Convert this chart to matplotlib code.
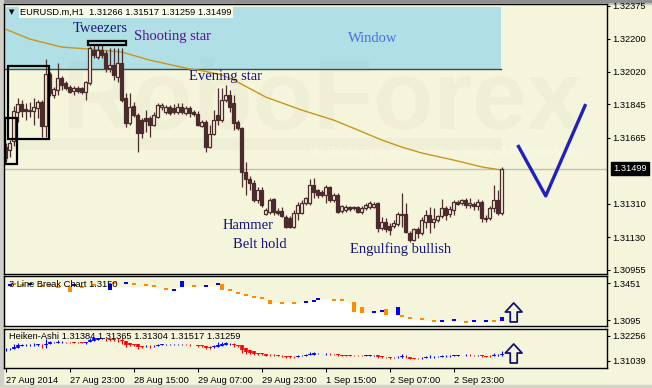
import numpy as np
import matplotlib
matplotlib.use("Agg")
import matplotlib.pyplot as plt
from matplotlib.patches import Rectangle

plt.rcParams['font.family'] = ['Liberation Sans', 'DejaVu Sans']

# EURUSD.m H1 candles, 27 Aug 07:00 .. 3 Sep 11:00
opens = [
    1.31616, 1.31600, 1.31648, 1.31804, 1.31847, 1.31821, 1.31815, 1.31810, 1.31826, 1.31858,
    1.31729, 1.32009, 1.31896, 1.31923, 1.31987, 1.31960, 1.31939, 1.31917, 1.31934, 1.31934,
    1.31912, 1.31960, 1.32138, 1.32100, 1.32138, 1.32122, 1.32041, 1.32057, 1.31993, 1.32068,
    1.31880, 1.31745, 1.31837, 1.31788, 1.31761, 1.31772, 1.31772, 1.31735, 1.31778, 1.31831,
    1.31804, 1.31831, 1.31826, 1.31804, 1.31831, 1.31799, 1.31826, 1.31804, 1.31794, 1.31729,
    1.31751, 1.31616, 1.31686, 1.31788, 1.31761, 1.31869, 1.31896, 1.31853, 1.31751, 1.31718,
    1.31482, 1.31444, 1.31422, 1.31331, 1.31385, 1.31256, 1.31266, 1.31336, 1.31272, 1.31272,
    1.31240, 1.31234, 1.31186, 1.31261, 1.31261, 1.31315, 1.31315, 1.31412, 1.31385, 1.31374,
    1.31358, 1.31401, 1.31331, 1.31358, 1.31272, 1.31277, 1.31293, 1.31288, 1.31293, 1.31266,
    1.31288, 1.31293, 1.31293, 1.31315, 1.31180, 1.31213, 1.31191, 1.31191, 1.31202, 1.31250,
    1.31256, 1.31153, 1.31116, 1.31175, 1.31153, 1.31213, 1.31250, 1.31213, 1.31223, 1.31245,
    1.31288, 1.31256, 1.31277, 1.31320, 1.31315, 1.31331, 1.31304, 1.31310, 1.31299, 1.31320,
    1.31234, 1.31234, 1.31288, 1.31331, 1.31261]
highs = [
    1.31638, 1.31654, 1.31837, 1.31880, 1.31869, 1.31853, 1.31858, 1.31880, 1.31869, 1.31869,
    1.32090, 1.32020, 1.31939, 1.32068, 1.31998, 1.31971, 1.31950, 1.31944, 1.31944, 1.31939,
    1.31971, 1.32160, 1.32165, 1.32165, 1.32165, 1.32138, 1.32149, 1.32149, 1.32149, 1.32149,
    1.31907, 1.31907, 1.31858, 1.31799, 1.31772, 1.31815, 1.31783, 1.31804, 1.31853, 1.31853,
    1.31842, 1.31842, 1.31847, 1.31853, 1.31853, 1.31837, 1.31837, 1.31815, 1.31810, 1.31761,
    1.31761, 1.31735, 1.31815, 1.31934, 1.31934, 1.31950, 1.31923, 1.31896, 1.31761, 1.31724,
    1.31535, 1.31460, 1.31439, 1.31401, 1.31401, 1.31288, 1.31342, 1.31342, 1.31288, 1.31293,
    1.31250, 1.31245, 1.31277, 1.31320, 1.31331, 1.31347, 1.31444, 1.31449, 1.31390, 1.31385,
    1.31412, 1.31406, 1.31369, 1.31369, 1.31304, 1.31304, 1.31299, 1.31299, 1.31299, 1.31299,
    1.31315, 1.31326, 1.31320, 1.31320, 1.31240, 1.31234, 1.31207, 1.31223, 1.31266, 1.31369,
    1.31315, 1.31164, 1.31180, 1.31186, 1.31240, 1.31277, 1.31293, 1.31288, 1.31250, 1.31336,
    1.31299, 1.31299, 1.31331, 1.31331, 1.31336, 1.31342, 1.31342, 1.31320, 1.31336, 1.31331,
    1.31250, 1.31299, 1.31412, 1.31385, 1.31509]
lows = [
    1.31535, 1.31562, 1.31622, 1.31751, 1.31778, 1.31761, 1.31778, 1.31735, 1.31772, 1.31670,
    1.31670, 1.31891, 1.31880, 1.31896, 1.31923, 1.31923, 1.31907, 1.31896, 1.31907, 1.31901,
    1.31869, 1.31950, 1.32095, 1.32090, 1.32095, 1.32020, 1.32020, 1.31977, 1.31966, 1.31858,
    1.31724, 1.31735, 1.31778, 1.31589, 1.31665, 1.31697, 1.31670, 1.31729, 1.31772, 1.31815,
    1.31794, 1.31788, 1.31794, 1.31794, 1.31794, 1.31788, 1.31778, 1.31783, 1.31729, 1.31724,
    1.31589, 1.31611, 1.31681, 1.31735, 1.31751, 1.31858, 1.31804, 1.31708, 1.31708, 1.31401,
    1.31358, 1.31385, 1.31320, 1.31315, 1.31293, 1.31250, 1.31256, 1.31250, 1.31250, 1.31240,
    1.31180, 1.31180, 1.31180, 1.31223, 1.31256, 1.31304, 1.31304, 1.31342, 1.31342, 1.31347,
    1.31315, 1.31320, 1.31320, 1.31261, 1.31261, 1.31266, 1.31272, 1.31277, 1.31261, 1.31256,
    1.31277, 1.31283, 1.31288, 1.31159, 1.31170, 1.31159, 1.31143, 1.31180, 1.31191, 1.31186,
    1.31153, 1.31105, 1.31111, 1.31127, 1.31143, 1.31180, 1.31153, 1.31180, 1.31213, 1.31234,
    1.31223, 1.31240, 1.31250, 1.31304, 1.31304, 1.31288, 1.31288, 1.31277, 1.31277, 1.31213,
    1.31213, 1.31223, 1.31266, 1.31250, 1.31250]
closes = [
    1.31557, 1.31638, 1.31810, 1.31847, 1.31810, 1.31810, 1.31810, 1.31831, 1.31858, 1.31729,
    1.32009, 1.31907, 1.31928, 1.31987, 1.31950, 1.31934, 1.31912, 1.31934, 1.31917, 1.31912,
    1.31966, 1.32149, 1.32111, 1.32138, 1.32111, 1.32041, 1.32057, 1.32004, 1.32068, 1.31869,
    1.31745, 1.31831, 1.31788, 1.31691, 1.31691, 1.31756, 1.31735, 1.31788, 1.31842, 1.31842,
    1.31831, 1.31799, 1.31804, 1.31831, 1.31804, 1.31826, 1.31799, 1.31794, 1.31735, 1.31751,
    1.31616, 1.31686, 1.31761, 1.31761, 1.31869, 1.31896, 1.31831, 1.31745, 1.31718, 1.31482,
    1.31444, 1.31422, 1.31331, 1.31385, 1.31304, 1.31277, 1.31331, 1.31266, 1.31261, 1.31245,
    1.31186, 1.31186, 1.31261, 1.31304, 1.31315, 1.31342, 1.31412, 1.31374, 1.31358, 1.31358,
    1.31401, 1.31331, 1.31358, 1.31266, 1.31299, 1.31293, 1.31283, 1.31293, 1.31266, 1.31288,
    1.31304, 1.31315, 1.31310, 1.31180, 1.31213, 1.31175, 1.31170, 1.31207, 1.31256, 1.31256,
    1.31159, 1.31116, 1.31175, 1.31153, 1.31223, 1.31250, 1.31213, 1.31229, 1.31245, 1.31288,
    1.31250, 1.31283, 1.31320, 1.31310, 1.31331, 1.31304, 1.31315, 1.31299, 1.31320, 1.31234,
    1.31229, 1.31288, 1.31331, 1.31261, 1.31499]

# moving average (orange line), sampled along the chart
ma_bars = [0, 6, 14, 21, 29, 36, 46, 49, 54, 57, 65, 74, 82, 88, 94, 99, 104, 112, 119, 124]
ma_vals = [1.32250, 1.32197, 1.32154, 1.32143, 1.32127, 1.32084, 1.32036, 1.32027, 1.32004, 1.31977,
           1.31885, 1.31815, 1.31761, 1.31708, 1.31654, 1.31616, 1.31584, 1.31546, 1.31509, 1.31492]

bid = 1.31499

time_bars = [0, 16, 32, 48, 64, 80, 96, 112]
time_labels = ['27 Aug 2014', '27 Aug 23:00', '28 Aug 15:00', '29 Aug 07:00',
               '29 Aug 23:00', '1 Sep 15:00', '2 Sep 07:00', '2 Sep 23:00']
price_ticks = [1.32375, 1.32200, 1.32020, 1.31845, 1.31665, 1.31310, 1.31130, 1.30955]

# drawn objects: window zone, pattern boxes, forecast V
window_bars = (-1, 123.8)
window_prices = (1.32034, 1.32370)
tweezer_bars = (20.6, 30.05)
tweezer_prices = (1.32165, 1.32188)
bigbox_bars = (0.65, 10.9)
bigbox_prices = (1.31659, 1.32054)
smallbox_bars = (-0.25, 2.75)
smallbox_prices = (1.31527, 1.31772)
v_bars = [128, 135, 145]
v_prices = [1.31627, 1.31353, 1.31847]

# 3 Line Break panel
lb_bars = [1, 2, 4, 6, 9, 11, 13, 16, 17, 19, 22, 26, 27, 30, 32, 35, 37, 40, 42, 44,
           47, 50, 53, 54, 56, 58, 60, 62, 64, 66, 69, 72, 75, 77, 78, 82, 84, 87, 89, 92,
           94, 95, 98, 99, 101, 104, 107, 109, 112, 115, 117, 120, 122, 124]
lb_top = [1.3441, 1.3451, 1.3441, 1.3451, 1.3432, 1.3441, 1.3422, 1.3422, 1.3441, 1.3422,
          1.3441, 1.3441, 1.3461, 1.3461, 1.3451, 1.3441, 1.3432, 1.3403, 1.3394, 1.3470,
          1.3432, 1.3432, 1.3451, 1.3441, 1.3394, 1.3365, 1.3346, 1.3327, 1.3318, 1.3289,
          1.3270, 1.3270, 1.3280, 1.3289, 1.3308, 1.3299, 1.3299, 1.3270, 1.3223, 1.3184,
          1.3194, 1.3204, 1.3223, 1.3146, 1.3127, 1.3118, 1.3099, 1.3099, 1.3108, 1.3089,
          1.3099, 1.3099, 1.3099, 1.3127]
lb_bot = [1.3422, 1.3432, 1.3422, 1.3432, 1.3413, 1.3422, 1.3403, 1.3365, 1.3422, 1.3403,
          1.3422, 1.3384, 1.3441, 1.3441, 1.3432, 1.3422, 1.3413, 1.3384, 1.3375, 1.3413,
          1.3413, 1.3413, 1.3432, 1.3384, 1.3375, 1.3346, 1.3327, 1.3308, 1.3299, 1.3251,
          1.3251, 1.3251, 1.3261, 1.3270, 1.3289, 1.3280, 1.3280, 1.3175, 1.3165, 1.3165,
          1.3175, 1.3146, 1.3146, 1.3127, 1.3108, 1.3099, 1.3080, 1.3080, 1.3089, 1.3070,
          1.3080, 1.3080, 1.3080, 1.3089]
lb_dir = ['b', 'o', 'o', 'b', 'o', 'o', 'o', 'o', 'b', 'o',
          'o', 'b', 'o', 'b', 'o', 'o', 'o', 'o', 'b', 'b',
          'o', 'b', 'b', 'o', 'o', 'o', 'o', 'o', 'o', 'o',
          'o', 'o', 'b', 'b', 'b', 'o', 'o', 'o', 'o', 'b',
          'b', 'o', 'b', 'o', 'o', 'o', 'o', 'b', 'b', 'o',
          'b', 'b', 'o', 'b']
lb_area_bars = [0, 30, 37, 40, 44, 53, 55, 58, 61, 64, 66, 73, 76, 80, 84, 86, 88, 96, 99, 103, 107, 124.4]
lb_area_vals = [1.3413, 1.3413, 1.3413, 1.3384, 1.3413, 1.3422, 1.3394, 1.3365, 1.3327, 1.3299, 1.3270,
                1.3261, 1.3289, 1.3299, 1.3289, 1.3261, 1.3175, 1.3165, 1.3127, 1.3099, 1.3089, 1.3089]

BG = '#F5F5DC'
CANDLE = '#4B2B2B'
TXT = '#14147a'
SERIF = 'Liberation Serif'

fig = plt.figure(figsize=(6.52, 3.88), dpi=100, facecolor=BG)
ax = fig.add_axes([0.00613, 0.29381, 0.92439, 0.69510], facecolor=BG)
ax2 = fig.add_axes([0.00613, 0.15979, 0.92439, 0.13015], facecolor=BG, sharex=ax)
ax3 = fig.add_axes([0.00613, 0.05155, 0.92439, 0.10129], facecolor=BG, sharex=ax)

# grey frame strips of the terminal window
fig.add_artist(Rectangle((0, 1 - 4 / 388), 1, 4 / 388, transform=fig.transFigure, color='#C8C8C0', zorder=0))
fig.add_artist(Rectangle((0, 1 - 1.5 / 388), 1, 1.5 / 388, transform=fig.transFigure, color='#909090', zorder=0))
fig.add_artist(Rectangle((0, 0), 3 / 652, 1, transform=fig.transFigure, color='#D0D0C8', zorder=0))
fig.add_artist(Rectangle((0, 0), 1, 3.5 / 388, transform=fig.transFigure, color='#D4D4CC', zorder=0))

o, h, l, c = map(np.array, (opens, highs, lows, closes))
x = np.arange(len(o))

# ---------------- main chart ----------------
ax.add_patch(Rectangle((window_bars[0], window_prices[0]), window_bars[1] - window_bars[0],
                       window_prices[1] - window_prices[0], facecolor='#B0E0E6', edgecolor='none', zorder=0.2))
ax.plot(window_bars, [window_prices[0]] * 2, color='#2F4F4F', lw=1, zorder=0.3)

# faint watermark
ax.add_patch(Rectangle((-1, 1.31600), 125, 0.00064, facecolor='#8c8c70', alpha=0.05, edgecolor='none', zorder=0.4))
ax.text(79, 1.31713, 'RoboForex', ha='center', va='baseline', fontsize=71, fontweight='bold',
        color='#8c8c7c', alpha=0.055, zorder=0.5)
ax.text(76, 1.31587, 'ИСПОЛЬЗУЙ РОБОТОВ – ПОЛУЧАЙ ПРИБЫЛЬ', ha='left', va='center', fontsize=8.4,
        family='DejaVu Sans', color='white', alpha=0.35, zorder=0.5, clip_on=True)

ax.axhline(bid, color='#C0C0C0', lw=1, zorder=1)
ax.plot(ma_bars, ma_vals, color='#C8961E', lw=1, zorder=3)

ax.vlines(x, l, h, color=CANDLE, lw=0.9, zorder=4)
up = c >= o
body_lo = np.minimum(o, c)
body_h = np.maximum(np.abs(c - o), 0.00003)
ax.bar(x[up], body_h[up], bottom=body_lo[up], width=0.72, facecolor=BG, edgecolor=CANDLE, lw=0.9, zorder=5)
ax.bar(x[~up], body_h[~up], bottom=body_lo[~up], width=0.72, facecolor=CANDLE, edgecolor=CANDLE, lw=0.9, zorder=5)

for (b0, b1), (p0, p1) in [(tweezer_bars, tweezer_prices), (bigbox_bars, bigbox_prices),
                           (smallbox_bars, smallbox_prices)]:
    ax.add_patch(Rectangle((b0, p0), b1 - b0, p1 - p0, fill=False, edgecolor='black', lw=1.6, zorder=6))

ax.plot(v_bars, v_prices, color='#2020C0', lw=2.4, solid_capstyle='butt', zorder=6)

ax.text(16.8, 1.32233, 'Tweezers', family=SERIF, fontsize=10.5, color='#1a1a6e', va='baseline', zorder=7)
ax.text(32.1, 1.32192, 'Shooting star', family=SERIF, fontsize=10.5, color='#5a0f8f', va='baseline', zorder=7)
ax.text(85.5, 1.32179, 'Window', family=SERIF, fontsize=10.5, color='#4a6ee0', va='baseline', zorder=7)
ax.text(45.8, 1.31977, 'Evening star', family=SERIF, fontsize=10.5, color=TXT, va='baseline', zorder=7)
ax.text(54.2, 1.31173, 'Hammer', family=SERIF, fontsize=10.5, color=TXT, va='baseline', zorder=7)
ax.text(56.9, 1.31074, 'Belt hold', family=SERIF, fontsize=10.5, color=TXT, va='baseline', zorder=7)
ax.text(86.1, 1.31047, 'Engulfing bullish', family=SERIF, fontsize=10.5, color=TXT, va='baseline', zorder=7)

ax.text(0.0265, 0.9714, 'EURUSD.m,H1  1.31266 1.31517 1.31259 1.31499', transform=ax.transAxes,
        fontsize=6.7, va='center', ha='left', zorder=8,
        bbox=dict(boxstyle='square,pad=0.15', fc='#FAFAEA', ec='none'))
ax.text(0.0085, 0.9714, '▼', transform=ax.transAxes, family='DejaVu Sans', fontsize=5, va='center', zorder=8)

ax.set_xlim(-0.43, 150.25)
ax.set_ylim(1.30933, 1.32384)
ax.set_yticks(price_ticks)
ax.set_yticklabels(['%.5f' % p for p in price_ticks])
ax.text(1.0105, bid, '%.5f' % bid, transform=ax.get_yaxis_transform(), ha='left', va='center',
        color='white', fontsize=6.7, bbox=dict(boxstyle='square,pad=0.2', fc='black', ec='black'))

# ---------------- 3 Line Break ----------------
ax2.fill_between(lb_area_bars, lb_area_vals, 1.30, color='white', lw=0, zorder=1)
lb_colors = ['#FF8C00' if d == 'o' else '#0000FF' for d in lb_dir]
ax2.bar(lb_bars, np.array(lb_top) - np.array(lb_bot), bottom=lb_bot, width=0.9,
        color=lb_colors, lw=0, zorder=3)
ax2.text(0.0083, 0.812, '3 Line Break Chart 1.3150', transform=ax2.transAxes, fontsize=6.7,
         va='center', ha='left', zorder=5)
ax2.set_ylim(1.30416, 1.35224)
ax2.set_yticks([1.3451, 1.3095])
ax2.set_yticklabels(['1.3451', '1.3095'])
ax2.annotate('', xy=(127, 1.3261), xytext=(127, 1.3080), annotation_clip=False,
             arrowprops=dict(arrowstyle='simple,head_length=0.65,head_width=1.2,tail_width=0.5',
                             fc=BG, ec='#14146e', lw=1.3, shrinkA=0, shrinkB=0, mutation_scale=10))

# ---------------- Heiken-Ashi (from the candles above) ----------------
ha_c = (o + h + l + c) / 4
ha_o = np.empty_like(ha_c)
ha_o[0] = (o[0] + c[0]) / 2
for i in range(1, len(ha_c)):
    ha_o[i] = (ha_o[i - 1] + ha_c[i - 1]) / 2
ha_h = np.maximum(h, np.maximum(ha_o, ha_c))
ha_l = np.minimum(l, np.minimum(ha_o, ha_c))
ha_col = np.where(ha_c >= ha_o, '#0000FF', '#FF0000')
ax3.vlines(x, ha_l, ha_h, colors=ha_col, lw=0.8, zorder=3)
ax3.vlines(x, ha_o, ha_c, colors=ha_col, lw=2.6, zorder=4)
ax3.text(0.0083, 0.789, 'Heiken-Ashi 1.31384 1.31365 1.31304 1.31517 1.31259', transform=ax3.transAxes,
         fontsize=6.7, va='center', ha='left', zorder=5)
ax3.set_ylim(1.30684, 1.32597)
ax3.set_yticks([1.32256, 1.31039])
ax3.set_yticklabels(['1.32256', '1.31039'])
ax3.annotate('', xy=(127, 1.31852), xytext=(127, 1.30927), annotation_clip=False,
             arrowprops=dict(arrowstyle='simple,head_length=0.65,head_width=1.2,tail_width=0.5',
                             fc=BG, ec='#14146e', lw=1.3, shrinkA=0, shrinkB=0, mutation_scale=10))

ax3.set_xticks(time_bars)
ax3.set_xticklabels(time_labels, ha='left')

for a in (ax, ax2, ax3):
    a.yaxis.tick_right()
    a.tick_params(axis='y', direction='out', length=2.5, width=0.8, pad=1.5, labelsize=6.7, colors='black')
    for s in a.spines.values():
        s.set_color('black')
        s.set_linewidth(1)
for a in (ax, ax2):
    a.tick_params(axis='x', bottom=False, labelbottom=False)
ax3.tick_params(axis='x', direction='out', length=3, width=0.8, pad=2.5, labelsize=6.7)

fig.savefig('out.png', dpi=100, facecolor=BG)
